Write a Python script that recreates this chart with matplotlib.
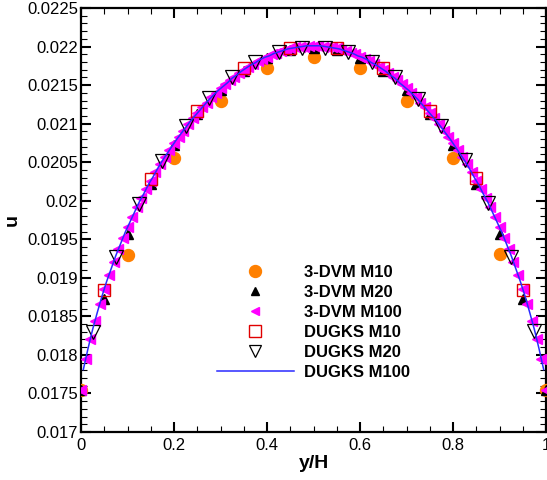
"""Profil de vitesse u(y/H) : 3-DVM vs DUGKS pour trois maillages."""

import numpy as np

import matplotlib
matplotlib.use("Agg")
import matplotlib.pyplot as plt
from matplotlib.lines import Line2D
from matplotlib.ticker import MultipleLocator, FuncFormatter

plt.rcParams["font.family"] = ["Liberation Sans", "DejaVu Sans"]

# ---------------------------------------------------------------------------
# Données
# ---------------------------------------------------------------------------
x_m10_dvm = np.linspace(0.0, 1.0, 11)
u_m10_dvm = [0.01755, 0.01930, 0.02055, 0.02130, 0.02172, 0.02186,
             0.02172, 0.02130, 0.02056, 0.01931, 0.01755]

x_m20_dvm = np.linspace(0.0, 1.0, 21)
u_m20_dvm = [0.01755, 0.01872, 0.01957, 0.02022, 0.02072, 0.02112, 0.02143,
             0.02168, 0.02185, 0.02195, 0.02198, 0.02195, 0.02185, 0.02168,
             0.02143, 0.02112, 0.02072, 0.02022, 0.01957, 0.01872, 0.01755]

x_m100_dvm = np.linspace(0.0, 1.0, 101)
u_m100_dvm = [
    0.01755, 0.01795, 0.01821, 0.01844, 0.01866, 0.01886, 0.01904, 0.01921, 0.01937, 0.01952,
    0.01966, 0.01979, 0.01992, 0.02004, 0.02015, 0.02026, 0.02037, 0.02047, 0.02057, 0.02066,
    0.02075, 0.02083, 0.02091, 0.02099, 0.02107, 0.02114, 0.02121, 0.02127, 0.02134, 0.02140,
    0.02146, 0.02151, 0.02156, 0.02161, 0.02166, 0.02170, 0.02174, 0.02178, 0.02181, 0.02184,
    0.02187, 0.02190, 0.02192, 0.02194, 0.02196, 0.02198, 0.02199, 0.02200, 0.02200, 0.02201,
    0.02201,
    0.02201, 0.02200, 0.02200, 0.02199, 0.02198, 0.02196, 0.02194, 0.02192, 0.02190, 0.02187,
    0.02184, 0.02181, 0.02178, 0.02174, 0.02170, 0.02166, 0.02161, 0.02156, 0.02151, 0.02146,
    0.02140, 0.02134, 0.02127, 0.02121, 0.02114, 0.02107, 0.02099, 0.02091, 0.02083, 0.02075,
    0.02066, 0.02057, 0.02047, 0.02037, 0.02026, 0.02015, 0.02004, 0.01992, 0.01979, 0.01966,
    0.01952, 0.01937, 0.01921, 0.01904, 0.01886, 0.01866, 0.01844, 0.01821, 0.01795, 0.01755,
]

x_m10_dugks = np.linspace(0.05, 0.95, 10)
u_m10_dugks = [0.01884, 0.02028, 0.02116, 0.02172, 0.02198,
               0.02198, 0.02172, 0.02117, 0.02029, 0.01884]

x_m20_dugks = np.linspace(0.025, 0.975, 20)
u_m20_dugks = [0.01830, 0.01927, 0.01996, 0.02052, 0.02097, 0.02133, 0.02161,
               0.02180, 0.02193, 0.02198, 0.02198, 0.02193, 0.02180, 0.02161,
               0.02132, 0.02097, 0.02053, 0.01997, 0.01927, 0.01831]

x_m100_dugks = np.linspace(0.005, 0.995, 100)
u_m100_dugks = [
    0.01781, 0.01808, 0.01833, 0.01855, 0.01876, 0.01895, 0.01912, 0.01929, 0.01944, 0.01959,
    0.01972, 0.01985, 0.01998, 0.02009, 0.02021, 0.02031, 0.02042, 0.02052, 0.02061, 0.02070,
    0.02079, 0.02087, 0.02095, 0.02103, 0.02110, 0.02117, 0.02124, 0.02131, 0.02137, 0.02143,
    0.02148, 0.02153, 0.02159, 0.02163, 0.02168, 0.02172, 0.02176, 0.02179, 0.02183, 0.02186,
    0.02188, 0.02191, 0.02193, 0.02195, 0.02197, 0.02198, 0.02199, 0.02200, 0.02201, 0.02201,
    0.02201, 0.02201, 0.02200, 0.02199, 0.02198, 0.02197, 0.02195, 0.02193, 0.02191, 0.02188,
    0.02186, 0.02183, 0.02179, 0.02176, 0.02172, 0.02168, 0.02163, 0.02159, 0.02153, 0.02148,
    0.02143, 0.02137, 0.02131, 0.02124, 0.02117, 0.02110, 0.02103, 0.02095, 0.02087, 0.02079,
    0.02070, 0.02061, 0.02052, 0.02042, 0.02031, 0.02021, 0.02009, 0.01998, 0.01985, 0.01972,
    0.01959, 0.01944, 0.01929, 0.01912, 0.01895, 0.01876, 0.01855, 0.01833, 0.01808, 0.01781,
]

labels = ["3-DVM M10", "3-DVM M20", "3-DVM M100",
          "DUGKS M10", "DUGKS M20", "DUGKS M100"]

ORANGE = "#ff8000"
MAGENTA = "#ff00ff"
ROUGE = "#e00000"
BLEU = "#2a2aff"

# ---------------------------------------------------------------------------
# Figure
# ---------------------------------------------------------------------------
fig = plt.figure(figsize=(5.47, 4.80), dpi=100)
ax = fig.add_axes([81 / 547, 48 / 480, 465 / 547, 424 / 480])

ax.plot(x_m10_dvm, u_m10_dvm, ls="none", marker="o", ms=8.6,
        mfc=ORANGE, mec=ORANGE, zorder=3)
ax.plot(x_m20_dvm, u_m20_dvm, ls="none", marker="^", ms=7.5,
        mfc="black", mec="black", zorder=3)
ax.plot(x_m100_dvm, u_m100_dvm, ls="none", marker="<", ms=6.5,
        mfc=MAGENTA, mec=MAGENTA, zorder=4)
ax.plot(x_m10_dugks, u_m10_dugks, ls="none", marker="s", ms=8.3,
        mfc="none", mec=ROUGE, mew=1.0, zorder=5)
ax.plot(x_m20_dugks, u_m20_dugks, ls="none", marker="v", ms=9.5,
        mfc="none", mec="black", mew=0.9, zorder=5)
ax.plot(x_m100_dugks, u_m100_dugks, color=BLEU, lw=1.1, zorder=6)

ax.set_xlim(0, 1)
ax.set_ylim(0.017, 0.0225)
ax.xaxis.set_major_locator(MultipleLocator(0.2))
ax.xaxis.set_minor_locator(MultipleLocator(0.05))
ax.yaxis.set_major_locator(MultipleLocator(0.0005))
ax.yaxis.set_minor_locator(MultipleLocator(0.0001))
fmt = FuncFormatter(lambda v, p: f"{v:.5g}" if abs(v) > 1e-12 else "0")
ax.xaxis.set_major_formatter(fmt)
ax.yaxis.set_major_formatter(fmt)

ax.tick_params(which="both", direction="in", top=True, right=True,
               labelsize=12, colors="black")
ax.tick_params(which="major", length=7, width=1.5)
ax.tick_params(which="minor", length=4, width=0.8)
ax.tick_params(axis="y", pad=2)
ax.tick_params(axis="x", pad=4)
for sp in ax.spines.values():
    sp.set_linewidth(1.6)

ax.set_xlabel("y/H", fontsize=14, fontweight="bold", labelpad=2)
ax.set_ylabel("u", fontsize=14, fontweight="bold", labelpad=5)

# Légende sans cadre, marqueurs plus petits que sur les courbes
poignees = [
    Line2D([], [], ls="none", marker="o", ms=8.6, mfc=ORANGE, mec=ORANGE),
    Line2D([], [], ls="none", marker="^", ms=5.5, mfc="black", mec="black"),
    Line2D([], [], ls="none", marker="<", ms=5.5, mfc=MAGENTA, mec=MAGENTA),
    Line2D([], [], ls="none", marker="s", ms=8, mfc="none", mec=ROUGE, mew=1.0),
    Line2D([], [], ls="none", marker="v", ms=8, mfc="none", mec="black", mew=0.9),
    Line2D([], [], color=BLEU, lw=1.1),
]
leg = fig.legend(poignees, labels, loc="upper left",
                 bbox_to_anchor=(217 / 547, 1 - 265 / 480),
                 frameon=False, borderpad=0, borderaxespad=0,
                 handlelength=4.6, handletextpad=0.6, labelspacing=0.3,
                 prop={"size": 12, "weight": "bold"})

fig.savefig("out.png", dpi=100)
plt.close(fig)
